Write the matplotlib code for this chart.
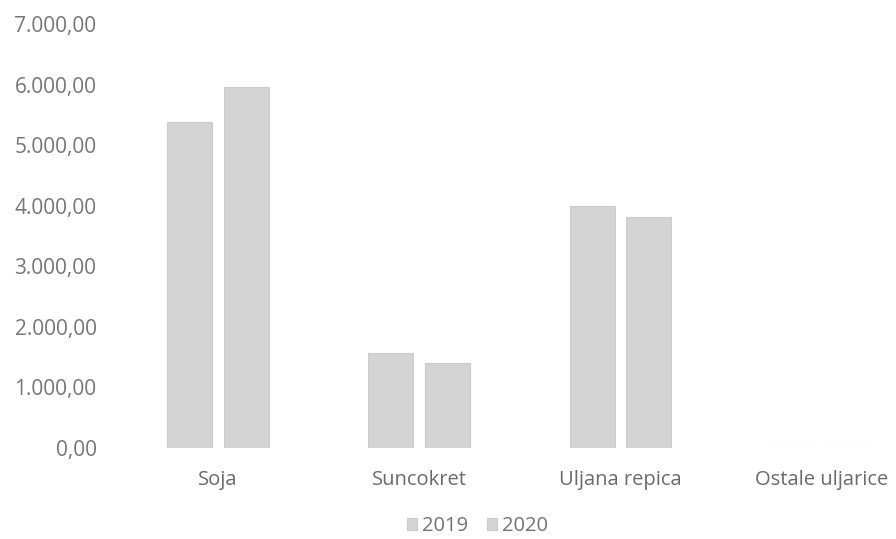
import matplotlib
matplotlib.use('Agg')
from matplotlib import pyplot as plt
import numpy as np

categories = ['Soja', 'Suncokret', 'Uljana repica', 'Ostale uljarice']
years = ['2019', '2020']
v2019 = [5390, 1570, 4000, 0]
v2020 = [5970, 1405, 3820, 0]
yticks = [0, 1000, 2000, 3000, 4000, 5000, 6000, 7000]

def fmt(v):
    s = '{:,.2f}'.format(v)
    return s.replace(',', 'X').replace('.', ',').replace('X', '.')

plt.rcParams['font.family'] = ['Open Sans', 'DejaVu Sans']

fig = plt.figure(figsize=(8.96, 5.39), dpi=100)
ax = fig.add_axes([0.131, 0.169, 0.898, 0.786])

x = np.arange(len(categories))
w = 0.224
off = 0.14
bar_col = '#d4d4d4'
b1 = ax.bar(x - off, v2019, w, color=bar_col, edgecolor='#cbcbcb', linewidth=0.8, label=years[0])
b2 = ax.bar(x + off, v2020, w, color=bar_col, edgecolor='#cbcbcb', linewidth=0.8, label=years[1])

ax.set_xlim(-0.5, 3.5)
ax.set_ylim(0, 7000)
ax.set_yticks(yticks)
ax.set_yticklabels([fmt(v) for v in yticks])
ax.set_xticks(x)
ax.set_xticklabels(categories)
ax.tick_params(axis='y', length=0, pad=15, labelsize=15, labelcolor='#767676')
ax.tick_params(axis='x', length=0, pad=16, labelsize=14.5, labelcolor='#6a6a6a')
for s in ax.spines.values():
    s.set_visible(False)

fig.legend(handles=[b1, b2], labels=years, loc='lower center', bbox_to_anchor=(0.533, -0.028),
           ncol=2, frameon=False, fontsize=14.5, handlelength=0.5, handleheight=0.5,
           handletextpad=0.25, columnspacing=0.95, labelcolor='#737373')

fig.savefig('out.png', dpi=100)
